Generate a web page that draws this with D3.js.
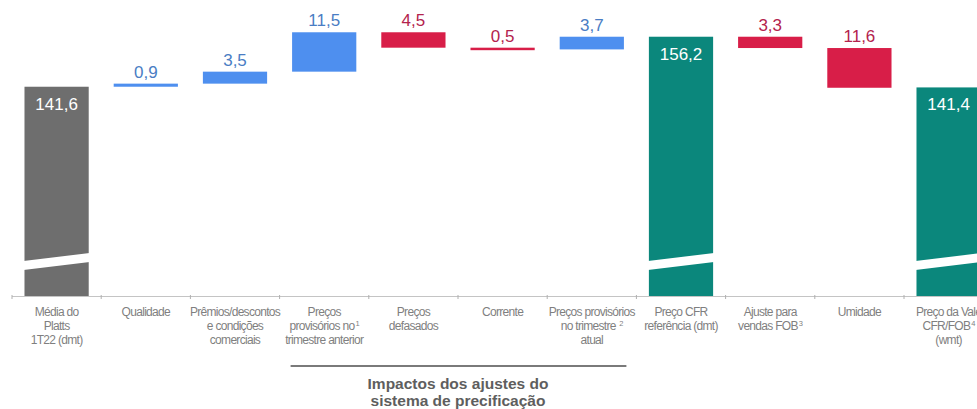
<!DOCTYPE html>
<html><head><meta charset="utf-8">
<script src="https://cdn.jsdelivr.net/npm/d3@7"></script>
<style>
html,body{margin:0;padding:0;background:#fff;overflow:hidden}
svg{display:block;font-family:"Liberation Sans",Arial,sans-serif}
</style></head>
<body>
<svg id="chart" width="977" height="409"></svg>
<script>
// ---- data ----
const categories = [
  ["Média do","Platts","1T22 (dmt)"],
  ["Qualidade"],
  ["Prêmios/descontos","e condições","comerciais"],
  ["Preços","provisórios no^1","trimestre anterior"],
  ["Preços","defasados"],
  ["Corrente"],
  ["Preços provisórios","no trimestre ^2","atual"],
  ["Preço CFR","referência (dmt)"],
  ["Ajuste para","vendas FOB^3"],
  ["Umidade"],
  ["Preço da Vale","CFR/FOB^4","(wmt)"]
];
const values = [141.6, 0.9, 3.5, 11.5, -4.5, -0.5, 3.7, 156.2, -3.3, -11.6, 141.4];
const kinds  = ["base","delta","delta","delta","delta","delta","delta","total","delta","delta","total"];
const bracketTitle = ["Impactos dos ajustes do","sistema de precificação"];
const bracketFrom = 3, bracketTo = 6;
const yDomain = [80.5, 160];

// ---- layout ----
const svg = d3.select("#chart");
const baseY = 296;
const x = d3.scaleBand().domain(d3.range(categories.length)).range([12, 12 + 89.2*categories.length]).padding(0);
const y = d3.scaleLinear().domain(yDomain).range([baseY, baseY - (yDomain[1]-yDomain[0])*3.425]);
const barW = x.bandwidth()*0.72;

const colors = {base:"#6e6e6e", total:"#0b877c", up:"#4e8fef", down:"#d81e48"};
const labelColors = {up:"#4a7dc4", down:"#b3234d"};
const fmt = v => d3.format(".1f")(Math.abs(v)).replace(".", ",");

// compute waterfall
let run = 0;
const bars = values.map((v,i) => {
  let y0, y1, type;
  if (kinds[i] !== "delta") { y0 = yDomain[0]; y1 = v; run = v; type = kinds[i]; }
  else { y0 = run; y1 = run + v; run = y1; type = v >= 0 ? "up" : "down"; }
  return {i, v, lo: Math.min(y0,y1), hi: Math.max(y0,y1), type, kind: kinds[i]};
});

const g = svg.append("g");
g.selectAll("rect.bar").data(bars).join("rect")
  .attr("class","bar")
  .attr("x", d => x(d.i) + (x.bandwidth()-barW)/2)
  .attr("width", barW)
  .attr("y", d => y(d.hi))
  .attr("height", d => Math.max(2.5, y(d.lo) - y(d.hi)))
  .attr("fill", d => colors[d.type]);

// axis break marks on full bars
const breakY = y(yDomain[0]) - 39;
g.selectAll("path.brk").data(bars.filter(d => d.kind !== "delta")).join("path")
  .attr("class","brk")
  .attr("fill","#fff")
  .attr("d", d => {
    const x0 = x(d.i) + (x.bandwidth()-barW)/2 - 1, x1 = x0 + barW + 2;
    return `M${x0},${breakY+4}L${x1},${breakY-4}L${x1},${breakY+5}L${x0},${breakY+13}Z`;
  });

// value labels
g.selectAll("text.val").data(bars).join("text")
  .attr("class","val")
  .attr("x", d => x(d.i) + x.bandwidth()/2)
  .attr("y", d => d.kind === "delta" ? y(d.hi) - 6 : y(d.hi) + 23)
  .attr("text-anchor","middle")
  .attr("font-size", 17)
  .attr("fill", d => d.kind === "delta" ? labelColors[d.type] : "#fff")
  .text(d => fmt(d.v));

// axis
const axis = svg.append("g");
axis.append("line").attr("x1", x.range()[0]).attr("x2", x.range()[1])
  .attr("y1", baseY+0.5).attr("y2", baseY+0.5).attr("stroke","#c4c4c4").attr("stroke-width",1.2);
axis.selectAll("line.tick").data(d3.range(categories.length+1)).join("line")
  .attr("class","tick")
  .attr("x1", i => x.range()[0] + i*x.step()).attr("x2", i => x.range()[0] + i*x.step())
  .attr("y1", baseY-1).attr("y2", baseY+3).attr("stroke","#b0b0b0");

// category labels
categories.forEach((lines, i) => {
  lines.forEach((ln, j) => {
    const parts = ln.split("^");
    const t = axis.append("text")
      .attr("x", x(i) + x.bandwidth()/2).attr("y", baseY + 20 + j*14)
      .attr("text-anchor","middle").attr("font-size", 12).attr("fill","#7f7f7f")
      .attr("letter-spacing", -0.7);
    t.append("tspan").text(parts[0]);
    if (parts[1]) t.append("tspan").attr("font-size", 7.5).attr("dy", -4).attr("dx", 1).text(parts[1]);
  });
});

// bracket
svg.append("line").attr("x1", x(bracketFrom) + 11).attr("x2", x(bracketTo) + x.bandwidth() - 10)
  .attr("y1", 366).attr("y2", 366).attr("stroke","#7a7a7a").attr("stroke-width", 2);
const bt = svg.append("text").attr("text-anchor","middle").attr("font-size", 15.5).attr("font-weight","bold")
  .attr("fill","#5e5e5e");
bracketTitle.forEach((ln, j) => bt.append("tspan")
  .attr("x", (x(bracketFrom) + x(bracketTo) + x.bandwidth())/2)
  .attr("y", 389 + j*17).text(ln));
</script>
</body></html>
